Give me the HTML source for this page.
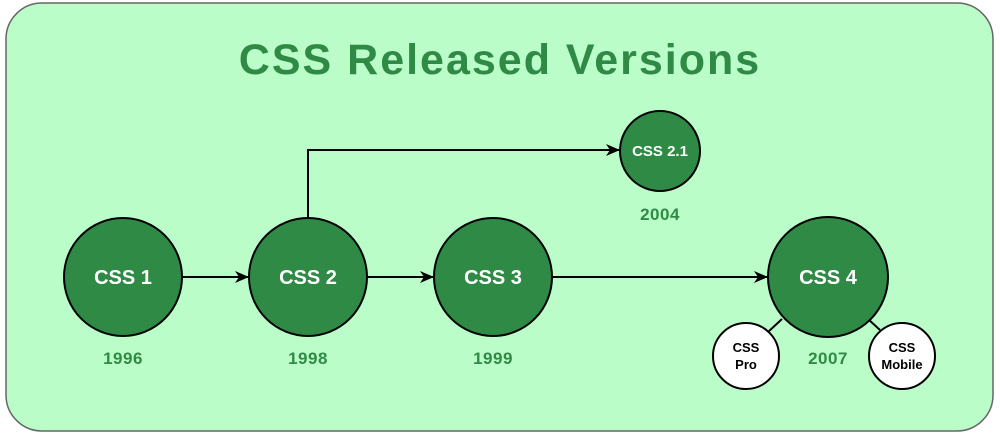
<!DOCTYPE html>
<html><head><meta charset="utf-8"><style>
html,body{margin:0;padding:0;background:#fff;}
svg{display:block;}
text{font-family:"Liberation Sans",sans-serif;font-weight:bold;text-anchor:middle;}
</style></head><body>
<svg width="1000" height="434" viewBox="0 0 1000 434">
<defs><marker id="a" markerWidth="14" markerHeight="12" refX="13" refY="6" orient="auto" markerUnits="userSpaceOnUse"><path d="M0,0 L14,6 L0,12 L4,6 Z" fill="#000"/></marker></defs>
<rect x="6" y="3" width="987" height="428" rx="36" fill="#bbfdc9" stroke="#666" stroke-width="1.5"/>
<text x="500" y="74" font-size="43" letter-spacing="2" fill="#2f8a46">CSS Released Versions</text>
<g stroke="#000" stroke-width="2" fill="none">
<line x1="182" y1="277" x2="248" y2="277" marker-end="url(#a)"/>
<line x1="367" y1="277" x2="433" y2="277" marker-end="url(#a)"/>
<line x1="552" y1="277" x2="767" y2="277" marker-end="url(#a)"/>
<polyline points="308,218 308,150 619,150" marker-end="url(#a)"/>
<line x1="782" y1="319" x2="768" y2="332"/>
<line x1="868" y1="319" x2="880" y2="330"/>
</g>
<g fill="#2f8a46" stroke="#000" stroke-width="2">
<circle cx="123" cy="277" r="59"/>
<circle cx="308" cy="277" r="59"/>
<circle cx="493" cy="277" r="59"/>
<circle cx="828" cy="277" r="60"/>
<circle cx="660" cy="151" r="40"/>
</g>
<g fill="#fff" stroke="#000" stroke-width="2">
<circle cx="746" cy="356" r="33"/>
<circle cx="902" cy="356" r="33"/>
</g>
<g fill="#fff" font-size="20">
<text x="123" y="284">CSS 1</text>
<text x="308" y="284">CSS 2</text>
<text x="493" y="284">CSS 3</text>
<text x="828" y="284">CSS 4</text>
<text x="660" y="156" font-size="15">CSS 2.1</text>
</g>
<g fill="#000" font-size="13">
<text x="746" y="352">CSS</text><text x="746" y="369">Pro</text>
<text x="902" y="352">CSS</text><text x="902" y="369">Mobile</text>
</g>
<g fill="#2f8a46" font-size="17" letter-spacing="0.5">
<text x="123" y="364">1996</text>
<text x="308" y="364">1998</text>
<text x="493" y="364">1999</text>
<text x="660" y="220">2004</text>
<text x="828" y="364">2007</text>
</g>
</svg>
</body></html>
